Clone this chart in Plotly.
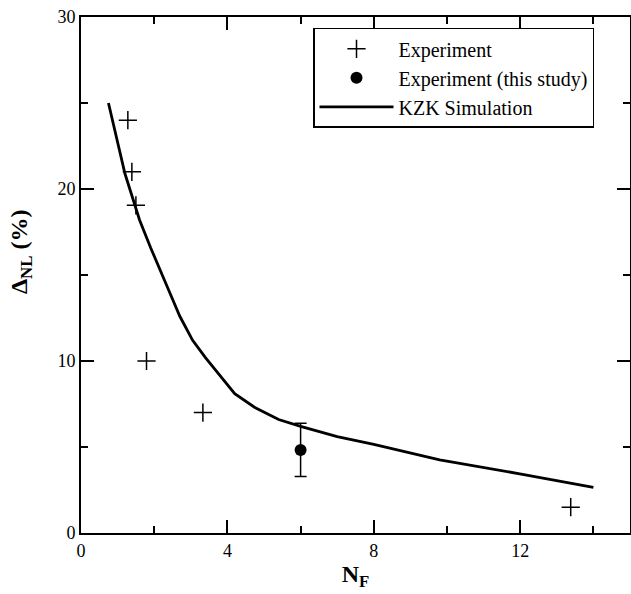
import plotly.graph_objects as go

# Experiment (literature) data
exp_x = [1.28, 1.39, 1.50, 1.79, 3.33, 13.38]
exp_y = [24.0, 21.0, 19.05, 10.0, 7.0, 1.5]

# Experiment (this study)
study_x = [6.0]
study_y = [4.83]
study_err = [1.55]

# KZK simulation curve
kzk_x = [0.75, 1.2, 1.6, 1.9, 2.4, 2.7, 3.05, 3.4, 4.2, 4.75, 5.4, 6.0, 7.0, 8.0, 9.8, 12.1, 14.0]
kzk_y = [25.0, 20.9, 18.2, 16.6, 14.1, 12.6, 11.2, 10.2, 8.1, 7.3, 6.6, 6.2, 5.6, 5.15, 4.25, 3.4, 2.65]

x_ticks = [0, 4, 8, 12]
y_ticks = [0, 10, 20, 30]

FONT = "Liberation Serif"

fig = go.Figure()
fig.add_trace(go.Scatter(
    x=exp_x, y=exp_y, mode="markers", name="Experiment",
    marker=dict(symbol="cross-thin", size=13, color="black",
                line=dict(color="black", width=1.5)),
))
fig.add_trace(go.Scatter(
    x=study_x, y=study_y, mode="markers", name="Experiment (this study)",
    marker=dict(symbol="circle", size=12, color="black"),
    error_y=dict(type="data", array=study_err, visible=True,
                 color="black", thickness=1.5, width=6),
))
fig.add_trace(go.Scatter(
    x=kzk_x, y=kzk_y, mode="lines", name="KZK Simulation",
    line=dict(color="black", width=2.8),
))

axis_common = dict(
    showline=True, linecolor="black", linewidth=2, mirror="allticks",
    ticks="inside", ticklen=13, tickwidth=1.5, tickcolor="black",
    showgrid=False, zeroline=False, automargin=False,
    tickfont=dict(family=FONT, size=18, color="black"),
)

fig.update_xaxes(
    range=[0, 15], tickvals=x_ticks, ticktext=[str(v) for v in x_ticks],
    minor=dict(tickvals=[2, 6, 10, 14], ticks="inside", ticklen=7,
               tickwidth=1.5, tickcolor="black", showgrid=False),
    title=dict(text="<b>N<sub>F</sub></b>",
               font=dict(family=FONT, size=24, color="black"), standoff=2),
    **axis_common,
)
fig.update_yaxes(
    range=[0, 30], tickvals=y_ticks, ticktext=[str(v) for v in y_ticks],
    minor=dict(tickvals=[5, 15, 25], ticks="inside", ticklen=7,
               tickwidth=1.5, tickcolor="black", showgrid=False),
    **axis_common,
)

# y-axis title (placed as in the reference, slightly above the axis middle)
fig.add_annotation(
    text="<b>Δ<sub>NL</sub> (%)</b>", textangle=-90, showarrow=False,
    xref="paper", yref="paper", x=-0.109, y=0.545,
    xanchor="center", yanchor="middle",
    font=dict(family=FONT, size=24, color="black"),
)

fig.update_layout(
    width=631, height=594,
    margin=dict(l=81, r=1, t=17, b=61),
    plot_bgcolor="white", paper_bgcolor="white",
    font=dict(family=FONT, color="black"),
    legend=dict(
        x=0.4226, y=0.979, xanchor="left", yanchor="top",
        bordercolor="black", borderwidth=1.5, bgcolor="white",
        font=dict(family=FONT, size=20, color="black"),
        tracegroupgap=0, itemwidth=74,
    ),
)

fig.write_html("out.html", config={"displayModeBar": False},
               post_script="document.body.style.margin='0';")
